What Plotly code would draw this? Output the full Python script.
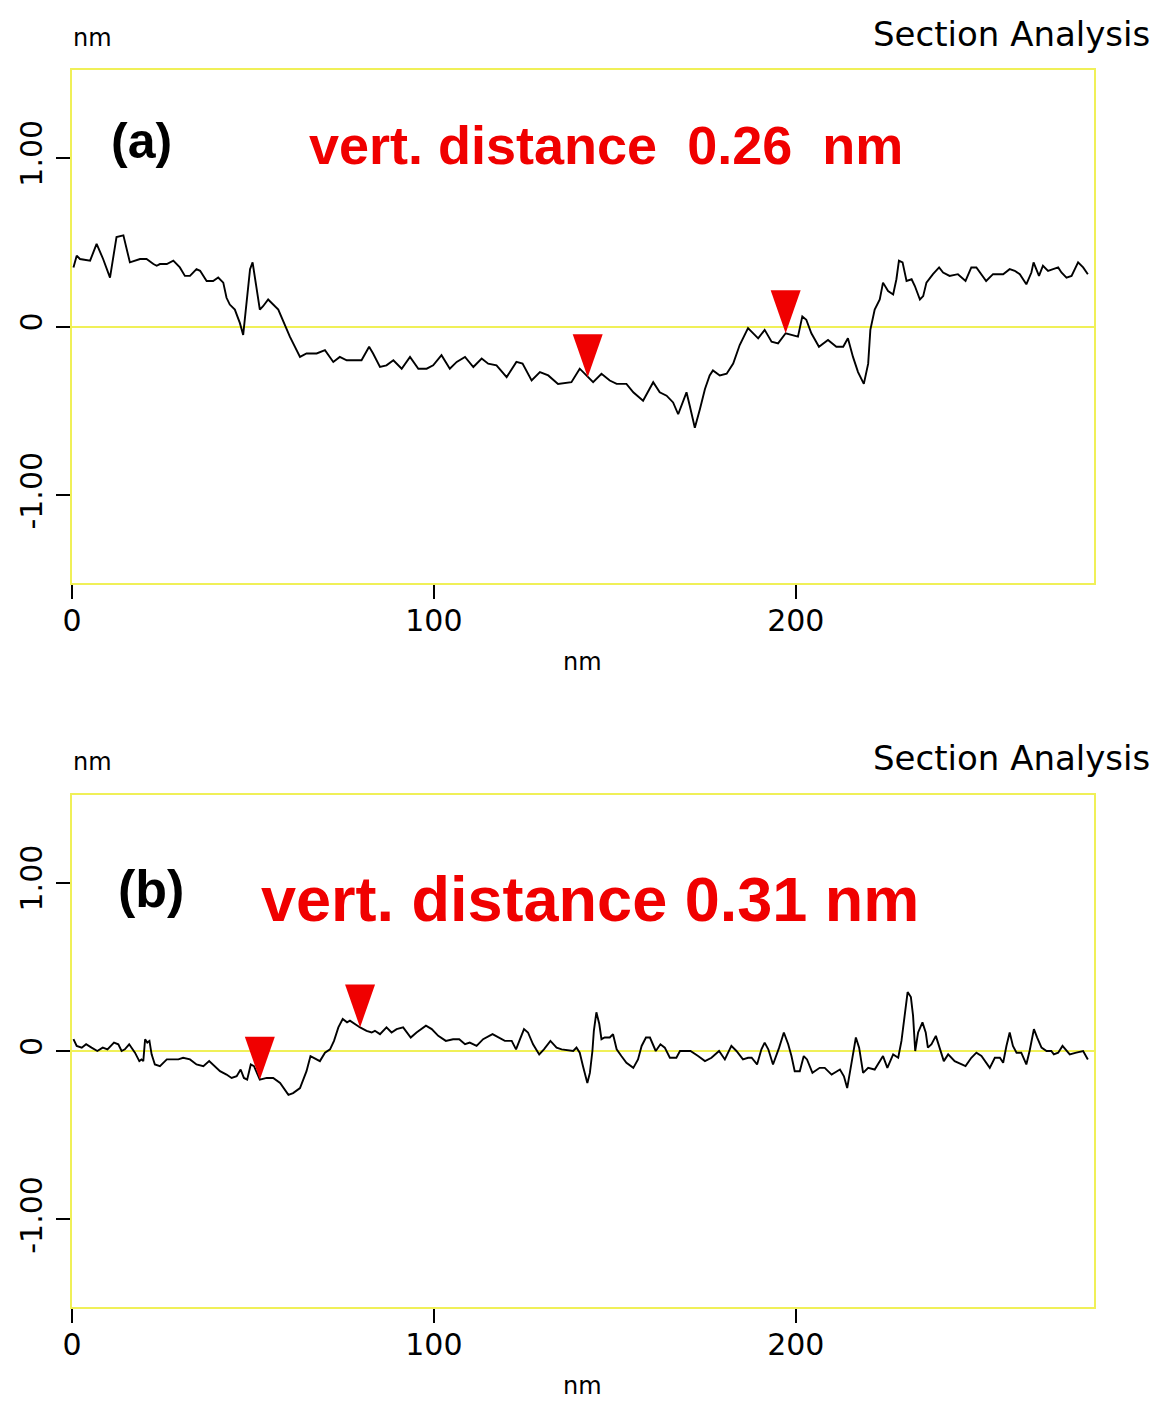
import plotly.graph_objects as go

# ---- Profile (a): lateral position (nm) and height (nm)
xa = [0.4, 1.3, 2.2, 5.0, 6.8, 8.6, 10.5, 12.3, 14.2, 16.0, 18.8, 20.6, 22.5, 23.4, 24.3, 26.2,
      28.0, 29.8, 31.2, 32.6, 34.4, 35.4, 37.2, 39.0, 40.4, 41.8, 42.7, 43.6, 45.0, 46.4, 47.3,
      48.3, 49.2, 49.9, 51.0, 51.9, 52.8, 54.2, 57.0, 58.4, 60.2, 63.0, 64.8, 67.6, 69.9, 72.2,
      74.0, 75.9, 80.0, 82.1, 83.2, 85.1, 86.9, 88.8, 91.1, 93.4, 95.7, 98.0, 99.8, 102.1, 104.4,
      106.3, 108.6, 110.9, 113.2, 115.0, 117.3, 120.1, 122.8, 124.5, 127.0, 129.3, 131.6, 134.3,
      138.0, 140.3, 142.5, 144.0, 146.3, 148.6, 150.5, 153.2, 155.1, 157.8, 160.6, 162.4, 164.3,
      166.1, 167.5, 168.9, 169.8, 170.7, 172.1, 173.5, 174.9, 176.2, 177.1, 179.0, 180.9, 182.7,
      184.5, 186.8, 188.2, 189.6, 191.4, 193.3, 195.1, 197.2, 200.6, 201.8, 202.9, 204.3, 206.4,
      208.9, 211.2, 213.1, 214.4, 215.8, 217.2, 218.8, 220.0, 220.6, 221.8, 223.2, 224.1, 225.5,
      226.9, 227.8, 228.5, 229.5, 230.6, 232.0, 232.9, 234.3, 235.2, 236.1, 237.9, 239.6, 240.7,
      242.5, 244.8, 246.9, 248.5, 249.9, 252.6, 254.5, 257.3, 259.1, 260.5, 261.9, 263.7, 265.1,
      265.7, 266.5, 267.2, 268.3, 269.7, 271.1, 272.5, 273.4, 274.8, 276.2, 278.0, 279.4, 280.7]
ya = [0.35, 0.42, 0.40, 0.39, 0.49, 0.40, 0.29, 0.53, 0.54, 0.38, 0.40, 0.40, 0.37, 0.36, 0.37, 0.37,
      0.39, 0.35, 0.30, 0.30, 0.34, 0.33, 0.27, 0.27, 0.29, 0.26, 0.17, 0.13, 0.10, 0.02, -0.05,
      0.16, 0.34, 0.38, 0.24, 0.10, 0.12, 0.16, 0.10, 0.03, -0.06, -0.18, -0.16, -0.16, -0.14, -0.21,
      -0.18, -0.20, -0.20, -0.12, -0.16, -0.24, -0.23, -0.20, -0.25, -0.18, -0.25, -0.25, -0.23, -0.17, -0.25,
      -0.21, -0.18, -0.24, -0.19, -0.22, -0.23, -0.30, -0.21, -0.22, -0.32, -0.27, -0.29, -0.34,
      -0.33, -0.25, -0.30, -0.33, -0.28, -0.32, -0.34, -0.34, -0.39, -0.44, -0.33, -0.39, -0.41,
      -0.45, -0.52, -0.44, -0.39, -0.47, -0.60, -0.49, -0.37, -0.29, -0.26, -0.29, -0.28, -0.22,
      -0.11, -0.01, -0.04, -0.07, -0.02, -0.09, -0.10, -0.04, -0.06, 0.06, 0.04, -0.04, -0.12,
      -0.08, -0.12, -0.12, -0.07, -0.18, -0.27, -0.34, -0.22, -0.02, 0.10, 0.16, 0.26, 0.21,
      0.19, 0.28, 0.39, 0.38, 0.27, 0.28, 0.24, 0.16, 0.18, 0.26, 0.31, 0.35, 0.32,
      0.30, 0.31, 0.27, 0.35, 0.35, 0.27, 0.31, 0.31, 0.34, 0.33, 0.31, 0.25, 0.32,
      0.38, 0.33, 0.30, 0.36, 0.33, 0.34, 0.35, 0.32, 0.29, 0.30, 0.38, 0.35, 0.31]

# ---- Profile (b)
xb = [0.4, 1.3, 2.7, 3.9, 5.4, 7.0, 8.5, 9.8, 11.6, 12.8, 13.7, 14.6, 15.8, 17.4, 18.6, 19.2, 19.7,
      20.2, 20.8, 21.4, 22.0, 22.9, 24.3, 26.2, 27.5, 29.4, 30.7, 32.6, 34.4, 36.3, 37.9, 39.5,
      40.9, 42.7, 44.1, 45.5, 46.6, 47.5, 48.4, 49.4, 50.3, 51.9, 53.8, 55.6, 57.5, 59.8, 61.1,
      63.0, 64.8, 65.9, 67.4, 68.5, 69.9, 71.3, 72.4, 73.6, 74.8, 76.0, 76.8, 78.2, 79.6, 81.4,
      82.8, 83.7, 85.1, 86.9, 88.3, 89.7, 91.5, 93.6, 95.2, 97.8, 99.4, 101.2, 103.3, 105.3,
      107.0, 108.6, 109.9, 111.8, 113.6, 116.2, 117.8, 119.6, 121.5, 122.7, 123.8, 124.9, 126.0,
      127.4, 129.1, 130.4, 132.2, 133.9, 135.3, 137.6, 138.5, 139.4, 140.3, 141.2, 142.4, 143.1,
      143.8, 144.2, 144.9, 145.7, 146.3, 147.2, 148.6, 149.5, 150.5, 151.8, 153.2, 155.1, 156.4,
      157.4, 158.6, 159.7, 161.3, 162.6, 163.8, 165.2, 167.0, 168.0, 170.9, 173.0, 174.9, 176.7,
      178.8, 180.4, 182.2, 183.6, 185.4, 186.8, 187.8, 189.3, 190.5, 191.4, 192.4, 193.7, 195.4,
      196.7, 197.9, 198.8, 199.7, 201.1, 202.2, 203.1, 204.6, 206.6, 208.0, 209.9, 212.2, 213.3,
      214.2, 215.4, 216.6, 217.5, 218.6, 220.0, 221.8, 224.1, 225.3, 226.9, 228.3, 229.2, 230.1,
      230.9, 231.8, 232.4, 233.0, 233.8, 235.0, 235.9, 236.5, 237.5, 238.7, 239.8, 240.9, 242.1,
      243.9, 246.9, 248.5, 249.9, 251.3, 253.6, 255.0, 256.4, 257.3, 258.2, 259.1, 260.0, 261.0,
      262.3, 263.7, 264.6, 265.4, 265.8, 266.7, 267.9, 269.3, 270.6, 271.3, 272.5, 273.7, 274.6,
      275.7, 277.5, 279.4, 280.7]
yb = [0.07, 0.03, 0.02, 0.04, 0.02, 0.00, 0.02, 0.01, 0.05, 0.04, 0.00, 0.01, 0.04, -0.01, -0.06, -0.05, -0.06,
      0.07, 0.05, 0.06, -0.02, -0.08, -0.09, -0.05, -0.05, -0.05, -0.04, -0.05, -0.08, -0.09, -0.06, -0.09,
      -0.12, -0.14, -0.16, -0.15, -0.11, -0.16, -0.17, -0.08, -0.09, -0.17, -0.16, -0.16, -0.19, -0.26, -0.25,
      -0.22, -0.12, -0.03, -0.05, -0.06, -0.01, 0.01, 0.06, 0.14, 0.19, 0.17, 0.18, 0.16, 0.14, 0.12,
      0.11, 0.12, 0.10, 0.14, 0.11, 0.13, 0.14, 0.08, 0.11, 0.15, 0.13, 0.09, 0.06, 0.07,
      0.07, 0.04, 0.05, 0.03, 0.07, 0.10, 0.08, 0.06, 0.06, 0.01, 0.07, 0.13, 0.11,
      0.04, -0.02, 0.01, 0.06, 0.02, 0.01, 0.00, 0.00, 0.02, -0.01, -0.09, -0.19, -0.13,
      0.00, 0.12, 0.23, 0.16, 0.07, 0.08, 0.08, 0.10, 0.01, -0.03, -0.07, -0.10, -0.05,
      0.03, 0.08, 0.08, 0.00, 0.04, 0.02, -0.04, -0.04, 0.00, 0.00, -0.03, -0.06, -0.04,
      0.00, -0.05, 0.03, 0.00, -0.05, -0.04, -0.04, -0.08, 0.01, 0.05, 0.01, -0.08, 0.02,
      0.11, 0.04, -0.03, -0.12, -0.12, -0.03, -0.05, -0.13, -0.10, -0.10, -0.14, -0.11, -0.15,
      -0.22, -0.07, 0.08, 0.02, -0.13, -0.10, -0.11, -0.03, -0.10, -0.02, -0.04, 0.06, 0.23,
      0.35, 0.32, 0.21, 0.00, 0.11, 0.17, 0.11, 0.02, 0.04, 0.09, 0.01, -0.06, -0.02,
      -0.06, -0.09, -0.04, -0.01, -0.03, -0.10, -0.04, -0.04, -0.07, 0.03, 0.11, 0.03, -0.01,
      -0.01, -0.08, 0.00, 0.08, 0.13, 0.08, 0.02, 0.00, 0.00, -0.02, -0.01, 0.03, 0.01,
      -0.02, -0.01, 0.00, -0.05]

# ---- Cursor markers (x, height) for each section
cursors_a_x = [142.5, 197.2]
cursors_a_y = [-0.30, -0.04]
cursors_b_x = [51.9, 79.6]
cursors_b_y = [-0.17, 0.14]

# ---- Axis ticks
x_ticks = [0, 100, 200]
x_tick_text = ["0", "100", "200"]
y_ticks = [-1, 0, 1]
y_tick_text = ["-1.00", "0", "1.00"]

X_RANGE = [0, 282.4]
Y_RANGE = [-1.52, 1.52]

W, H = 1158, 1402
FRAME = "#f0f058"
RED = "#f00000"
TICK_FONT = dict(family="DejaVu Sans", size=30, color="black")

fig = go.Figure()


def add_panel(xs, ys, cx, cy, xref, yref):
    fig.add_trace(go.Scatter(x=xs, y=ys, mode="lines", xaxis=xref, yaxis=yref,
                             line=dict(color="black", width=1.9), showlegend=False,
                             hoverinfo="skip"))
    # downward red triangles whose tips sit on the cursor points
    half_w = 15 * (X_RANGE[1] - X_RANGE[0]) / 1022
    tri_h = 43 * (Y_RANGE[1] - Y_RANGE[0]) / 513
    for px_, py_ in zip(cx, cy):
        fig.add_trace(go.Scatter(
            x=[px_ - half_w, px_ + half_w, px_, px_ - half_w],
            y=[py_ + tri_h, py_ + tri_h, py_, py_ + tri_h],
            mode="lines", fill="toself", fillcolor=RED, line=dict(width=0, color=RED),
            xaxis=xref, yaxis=yref, showlegend=False, hoverinfo="skip"))


add_panel(xa, ya, cursors_a_x, cursors_a_y, "x", "y")
add_panel(xb, yb, cursors_b_x, cursors_b_y, "x2", "y2")

x_dom = [72 / W, 1094 / W]
ya_dom = [1 - 583 / H, 1 - 70 / H]
yb_dom = [1 - 1307 / H, 1 - 795 / H]

xaxis_common = dict(range=X_RANGE, tickvals=x_ticks, ticktext=x_tick_text, ticks="outside",
                    ticklen=14, tickwidth=1.5, tickcolor="black", showline=True, linecolor=FRAME,
                    linewidth=2, mirror=True, showgrid=False, zeroline=False, tickfont=TICK_FONT,
                    ticklabelstandoff=-4, automargin=False, domain=x_dom, fixedrange=True)
yaxis_common = dict(range=Y_RANGE, tickvals=y_ticks, ticktext=y_tick_text, ticks="outside",
                    ticklen=14, tickwidth=1.5, tickcolor="black", showline=True, linecolor=FRAME,
                    linewidth=2, mirror=True, showgrid=False, zeroline=True, zerolinecolor=FRAME,
                    zerolinewidth=2, tickfont=TICK_FONT, tickangle=-90, ticklabelstandoff=2,
                    automargin=False, fixedrange=True)

fig.update_layout(
    width=W, height=H,
    margin=dict(l=0, r=0, t=0, b=0),
    paper_bgcolor="white", plot_bgcolor="white",
    xaxis=dict(xaxis_common, anchor="y"),
    yaxis=dict(yaxis_common, domain=ya_dom, anchor="x"),
    xaxis2=dict(xaxis_common, anchor="y2"),
    yaxis2=dict(yaxis_common, domain=yb_dom, anchor="x2"),
)


def note(text, px, py, size, family="DejaVu Sans", color="black", bold=False, xanchor="center"):
    fig.add_annotation(text=f"<b>{text}</b>" if bold else text, xref="paper", yref="paper",
                       x=px / W, y=1 - py / H, xanchor=xanchor, yanchor="middle",
                       showarrow=False, font=dict(family=family, size=size, color=color))


dist_a = abs(cursors_a_y[1] - cursors_a_y[0])
dist_b = abs(cursors_b_y[1] - cursors_b_y[0])
nb = "\u00a0"

# panel (a) labels
note("nm", 92, 38, 24)
note("Section Analysis", 1152, 34, 34, xanchor="right")
note("(a)", 141, 141, 50, family="Liberation Sans", bold=True)
note(f"vert. distance{nb*2}{dist_a:.2f}{nb*2}nm", 606, 145, 54, family="Liberation Sans",
     color=RED, bold=True)
note("nm", 582, 662, 24)

# panel (b) labels
note("nm", 92, 762, 24)
note("Section Analysis", 1152, 758, 34, xanchor="right")
note("(b)", 151, 889, 52, family="Liberation Sans", bold=True)
note(f"vert. distance {dist_b:.2f} nm", 590, 899, 63, family="Liberation Sans",
     color=RED, bold=True)
note("nm", 582, 1386, 24)

fig.write_html("out.html")
